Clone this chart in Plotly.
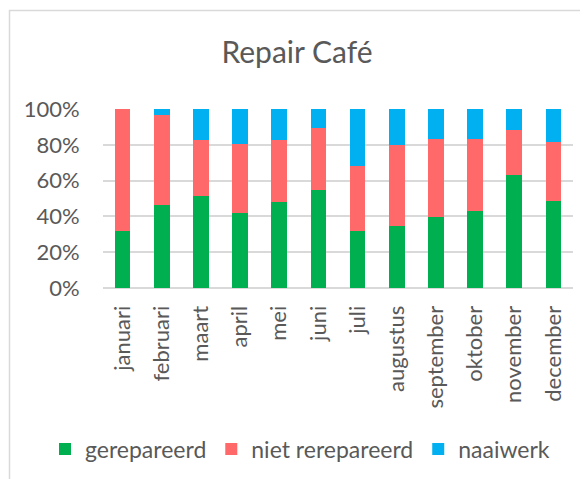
import plotly.graph_objects as go

months = ["januari", "februari", "maart", "april", "mei", "juni", "juli",
          "augustus", "september", "oktober", "november", "december"]
gerepareerd = [31.6, 46.6, 51.5, 42.1, 48.1, 54.9, 31.8, 34.8, 39.7, 43.1, 63.3, 48.5]
niet_gerepareerd = [68.4, 49.8, 31.1, 38.4, 34.5, 34.6, 36.2, 45.0, 43.4, 40.0, 25.1, 33.3]
naaiwerk = [0.0, 3.6, 17.4, 19.5, 17.4, 10.5, 32.0, 20.2, 16.9, 16.9, 11.6, 18.2]
tick_vals = [0, 20, 40, 60, 80, 100]
tick_text = ["0%", "20%", "40%", "60%", "80%", "100%"]

FONT = "Lato"
GREY = "#595959"
W, H = 580, 471          # page body has an 8px margin
OFF = 8
L, R, T, B = 103 - OFF, 15, 109 - OFF, 471 - (288 - OFF)
PW, PH = W - L - R, H - T - B

fig = go.Figure()
for name, vals, col in [("gerepareerd", gerepareerd, "#00b050"),
                        ("niet rerepareerd", niet_gerepareerd, "#ff6969"),
                        ("naaiwerk", naaiwerk, "#00b0f0")]:
    fig.add_trace(go.Bar(x=months, y=vals, name=name, marker_color=col,
                         marker_line_width=0))

fig.update_layout(
    barmode="stack",
    bargap=0.6,
    width=W, height=H,
    margin=dict(l=L, r=R, t=T, b=B, autoexpand=False),
    paper_bgcolor="white", plot_bgcolor="white",
    font=dict(family=FONT, color=GREY, size=22),
    title=dict(text="Repair Café", x=(297 - OFF) / W, xanchor="center",
               xref="container", y=1 - (52 - OFF) / H, yanchor="middle",
               font=dict(family=FONT, size=30, color=GREY)),
    showlegend=True,
    legend=dict(orientation="h", xref="paper", yref="paper",
                x=(37 - L) / PW, xanchor="left",
                y=(H - B - (449 - OFF)) / PH, yanchor="middle",
                font=dict(size=23, color=GREY),
                itemwidth=30, traceorder="normal"),
    xaxis=dict(tickangle=-90, showgrid=False, showline=False,
               ticks="outside", ticklen=8, tickcolor="rgba(0,0,0,0)",
               tickfont=dict(size=22, color=GREY)),
    yaxis=dict(range=[0, 100], tickvals=tick_vals, ticktext=tick_text,
               showgrid=True, gridcolor="#d9d9d9", gridwidth=1.5,
               zeroline=True, zerolinecolor="#d9d9d9", zerolinewidth=1.5,
               showline=False, ticks="outside", ticklen=18,
               tickcolor="rgba(0,0,0,0)",
               tickfont=dict(size=22, color=GREY)),
    shapes=[dict(type="rect", xref="paper", yref="paper",
                 x0=(1.5 - L) / PW, x1=(W + 30 - L) / PW,
                 y0=(H - B - (H + 30)) / PH, y1=(H - B - 2.5) / PH,
                 line=dict(color="#d9d9d9", width=1.5), layer="above")],
)

fig.write_html("out.html")
